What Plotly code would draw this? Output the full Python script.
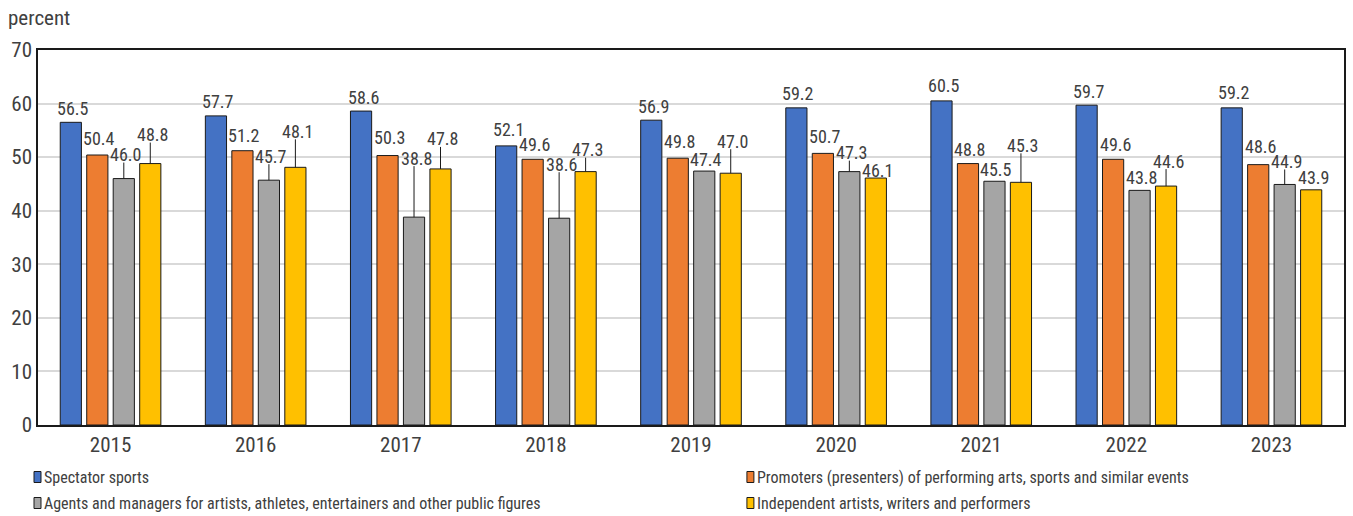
import plotly.graph_objects as go

# Share of employment, percent, by industry and year
years = ["2015", "2016", "2017", "2018", "2019", "2020", "2021", "2022", "2023"]
spectator_sports = [56.5, 57.7, 58.6, 52.1, 56.9, 59.2, 60.5, 59.7, 59.2]
promoters = [50.4, 51.2, 50.3, 49.6, 49.8, 50.7, 48.8, 49.6, 48.6]
agents_managers = [46.0, 45.7, 38.8, 38.6, 47.4, 47.3, 45.5, 43.8, 44.9]
independent_artists = [48.8, 48.1, 47.8, 47.3, 47.0, 46.1, 45.3, 44.6, 43.9]

series_names = [
    "Spectator sports",
    "Promoters (presenters) of performing arts, sports and similar events",
    "Agents and managers for artists, athletes, entertainers and other public figures",
    "Independent artists, writers and performers",
]
series_values = [spectator_sports, promoters, agents_managers, independent_artists]
colors = ["#4472C4", "#ED7D31", "#A5A5A5", "#FFC000"]

# Vertical placement of each value label above its bar (pixels, label centre)
label_lift = [
    [14, 14, 14, 16, 14, 14, 15, 14, 15],
    [17, 15, 18, 15, 17, 17, 14, 15, 18],
    [24, 24, 59, 54, 12, 19, 12, 13, 23],
    [29, 36, 30, 22, 32, 8, 37, 25, 12],
]
# Labels that are connected to their bar by a leader line
has_leader = [
    [0] * 9,
    [0] * 9,
    [1, 1, 1, 1, 0, 1, 0, 0, 1],
    [1, 1, 1, 1, 1, 0, 1, 1, 0],
]

FONT = "Liberation Sans Narrow, Roboto Condensed, Arial Narrow, Roboto, sans-serif"
TEXT = "#404040"
W, H = 1353, 516
ML, MR, MT, MB = 38, 7, 50, 91
PW, PH = W - ML - MR, H - MT - MB
BARGAP = 0.27
n_series = len(series_values)
slot = (1 - BARGAP) / n_series

fig = go.Figure()
for name, vals, col in zip(series_names, series_values, colors):
    fig.add_trace(go.Bar(
        x=years, y=vals, name=name,
        marker=dict(color=col, line=dict(color="#1a1a1a", width=1)),
        showlegend=False,
    ))

annotations = []
shapes = []
for k, vals in enumerate(series_values):
    for i, v in enumerate(vals):
        xc = i + (k - (n_series - 1) / 2) * slot
        lift = label_lift[k][i]
        annotations.append(dict(
            x=xc, y=v, xref="x", yref="y", text=f"{v:.1f}",
            showarrow=False, xanchor="center", yanchor="middle",
            xshift=2, yshift=lift,
            font=dict(family=FONT, size=18, color=TEXT),
        ))
        if has_leader[k][i]:
            shapes.append(dict(
                type="line", xref="x", yref="y", ysizemode="pixel",
                yanchor=v, x0=xc, x1=xc, y0=0, y1=lift - 8,
                line=dict(color="#1a1a1a", width=1),
            ))

# Legend drawn as swatches and text in two columns
legend_pos = [(34, 477), (748, 477), (34, 503), (748, 503)]


def px_to_paper(px, py):
    return (px - ML) / PW, (H - MB - py) / PH


for (px, py), name, col in zip(legend_pos, series_names, colors):
    x0, y0 = px_to_paper(px, py + 5.5)
    x1, y1 = px_to_paper(px + 7, py - 5.5)
    shapes.append(dict(
        type="rect", xref="paper", yref="paper", x0=x0, x1=x1, y0=y0, y1=y1,
        fillcolor=col, line=dict(color="#1a1a1a", width=1),
    ))
    tx, ty = px_to_paper(px + 8, py)
    annotations.append(dict(
        x=tx, y=ty, xref="paper", yref="paper", text=name, showarrow=False,
        xanchor="left", yanchor="middle",
        font=dict(family=FONT, size=16, color=TEXT),
    ))

ax, ay = px_to_paper(6, 18)
annotations.append(dict(
    x=ax, y=ay, xref="paper", yref="paper", text="percent", showarrow=False,
    xanchor="left", yanchor="middle",
    font=dict(family=FONT, size=21, color=TEXT),
))

fig.update_layout(
    width=W, height=H,
    margin=dict(l=ML, r=MR, t=MT, b=MB),
    paper_bgcolor="white", plot_bgcolor="white",
    barmode="group", bargap=BARGAP, bargroupgap=0.2,
    font=dict(family=FONT, size=18, color=TEXT),
    annotations=annotations, shapes=shapes,
    showlegend=False,
)
fig.update_xaxes(
    type="category", showline=True, linecolor="#1a1a1a", linewidth=1.5,
    mirror=True, ticks="", tickfont=dict(family=FONT, size=21, color=TEXT),
    showgrid=False,
)
fig.update_yaxes(
    range=[0, 70], dtick=10, showline=True, linecolor="#1a1a1a", linewidth=1.5,
    mirror=True, gridcolor="#d9d9d9", gridwidth=1.5, ticks="",
    tickfont=dict(family=FONT, size=21, color=TEXT), zeroline=False,
)

fig.write_html("out.html")
